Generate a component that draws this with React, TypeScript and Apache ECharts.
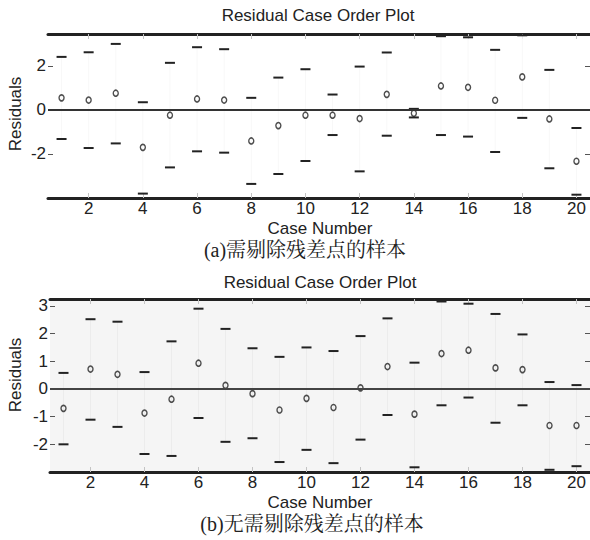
import React, { useEffect, useRef } from "react";
import * as echarts from "echarts";

const caseNumbers = [1, 2, 3, 4, 5, 6, 7, 8, 9, 10, 11, 12, 13, 14, 15, 16, 17, 18, 19, 20];
const xTicks = [2, 4, 6, 8, 10, 12, 14, 16, 18, 20];

const residA = [0.55, 0.45, 0.76, -1.7, -0.24, 0.5, 0.45, -1.41, -0.71, -0.24, -0.24, -0.39, 0.71, -0.15, 1.09, 1.03, 0.44, 1.5, -0.41, -2.33];
const lowerA = [-1.32, -1.73, -1.52, -3.8, -2.61, -1.88, -1.94, -3.36, -2.91, -2.32, -1.14, -2.79, -1.17, -0.34, -1.14, -1.21, -1.91, -0.36, -2.65, -3.85];
const upperA = [2.41, 2.62, 3.0, 0.35, 2.14, 2.85, 2.76, 0.55, 1.47, 1.85, 0.7, 1.97, 2.61, 0.05, 3.35, 3.3, 2.73, 3.39, 1.82, -0.82];
const yTicksA = [-2, 0, 2];

const residB = [-0.7, 0.72, 0.53, -0.87, -0.37, 0.93, 0.13, -0.17, -0.76, -0.34, -0.67, 0.04, 0.81, -0.91, 1.28, 1.4, 0.76, 0.7, -1.32, -1.32];
const lowerB = [-2.0, -1.11, -1.37, -2.35, -2.42, -1.05, -1.91, -1.78, -2.64, -2.2, -2.68, -1.83, -0.94, -2.83, -0.59, -0.31, -1.22, -0.59, -2.92, -2.79];
const upperB = [0.58, 2.52, 2.43, 0.61, 1.72, 2.9, 2.17, 1.47, 1.16, 1.5, 1.37, 1.91, 2.55, 0.95, 3.16, 3.08, 2.71, 1.97, 0.25, 0.14];
const yTicksB = [-2, -1, 0, 1, 2, 3];

const titleText = "Residual Case Order Plot";
const xName = "Case Number";
const yName = "Residuals";
const captionA = "(a)需剔除残差点的样本";
const captionB = "(b)无需剔除残差点的样本";

const SANS = '"Liberation Sans", Arial, Helvetica, sans-serif';
const SERIF = '"Liberation Serif", "Noto Serif CJK SC", "Noto Sans CJK SC", serif';
const INK = "#222";

function xAxes(gridIndex: number) {
  const base = {
    type: "value",
    gridIndex,
    min: 0.5,
    max: 20.5,
    splitLine: { show: false },
    axisLine: { show: true, onZero: false, lineStyle: { color: INK, width: 3 } },
    axisTick: { show: true, inside: true, length: 5, customValues: xTicks, lineStyle: { color: "#c4c4c4", width: 1 } },
  };
  return [
    {
      ...base,
      position: "bottom",
      axisLabel: { show: true, customValues: xTicks, margin: 2, fontSize: 17, color: INK, fontFamily: SANS },
    },
    { ...base, position: "top", axisLabel: { show: false } },
  ];
}

function yAxes(gridIndex: number, min: number, max: number, ticks: number[]) {
  const base = {
    type: "value",
    gridIndex,
    min,
    max,
    splitLine: { show: false },
    axisLine: { show: false },
    axisTick: { show: true, inside: true, length: 5, customValues: ticks, lineStyle: { color: "#555", width: 1 } },
  };
  return [
    {
      ...base,
      position: "left",
      axisLabel: { show: true, customValues: ticks, margin: 2, fontSize: 17, color: INK, fontFamily: SANS },
    },
    { ...base, position: "right", axisLabel: { show: false } },
  ];
}

function intervalSeries(axisIdx: number, lower: number[], upper: number[], faint: string) {
  return {
    type: "custom",
    xAxisIndex: axisIdx,
    yAxisIndex: axisIdx,
    encode: { x: 0, y: [1, 2] },
    data: caseNumbers.map((c, i) => [c, lower[i], upper[i]]),
    renderItem: (params: any, api: any) => {
      const x = api.value(0);
      const pLo = api.coord([x, api.value(1)]);
      const pHi = api.coord([x, api.value(2)]);
      const hw = 5;
      return {
        type: "group",
        children: [
          { type: "line", shape: { x1: pLo[0], y1: pLo[1], x2: pHi[0], y2: pHi[1] }, style: { stroke: faint, lineWidth: 1 } },
          { type: "line", shape: { x1: pLo[0] - hw, y1: pLo[1], x2: pLo[0] + hw, y2: pLo[1] }, style: { stroke: INK, lineWidth: 2 } },
          { type: "line", shape: { x1: pHi[0] - hw, y1: pHi[1], x2: pHi[0] + hw, y2: pHi[1] }, style: { stroke: INK, lineWidth: 2 } },
        ],
      };
    },
    z: 3,
  };
}

function residSeries(axisIdx: number, resid: number[], zeroColor: string) {
  return {
    type: "scatter",
    xAxisIndex: axisIdx,
    yAxisIndex: axisIdx,
    data: caseNumbers.map((c, i) => [c, resid[i]]),
    symbol: "circle",
    symbolSize: [5, 6],
    itemStyle: { color: "rgba(0,0,0,0)", borderColor: INK, borderWidth: 1.5 },
    markLine: {
      silent: true,
      symbol: ["none", "none"],
      label: { show: false },
      lineStyle: { color: zeroColor, width: 2, type: "solid" },
      data: [{ yAxis: 0 }],
    },
    z: 4,
  };
}

function txt(text: string, x: number, y: number, size: number, family: string, rotation = 0) {
  return {
    type: "text",
    x,
    y,
    rotation,
    style: { text, fontSize: size, fontFamily: family, fill: INK, align: "center", verticalAlign: "middle" },
  };
}

export default function App() {
  const ref = useRef<HTMLDivElement>(null);
  useEffect(() => {
    if (!ref.current) return;
    const chart = echarts.init(ref.current, null, { renderer: "svg" });
    const option: any = {
      animation: false,
      backgroundColor: "#ffffff",
      grid: [
        { left: 48, top: 34, width: 544, height: 164, show: false },
        { left: 50, top: 299, width: 544, height: 173, show: true, backgroundColor: "#f5f5f5", borderWidth: 0 },
      ],
      xAxis: [...xAxes(0), ...xAxes(1)],
      yAxis: [...yAxes(0, -4.0, 3.45, yTicksA), ...yAxes(1, -3.0, 3.25, yTicksB)],
      series: [
        intervalSeries(0, lowerA, upperA, "#f8f8f8"),
        residSeries(0, residA, "#333"),
        intervalSeries(2, lowerB, upperB, "#ececec"),
        residSeries(2, residB, "#444"),
      ],
      graphic: [
        txt(titleText, 318, 15, 17, SANS),
        txt(xName, 320, 228, 17, SANS),
        txt(yName, 15, 114, 17, SANS, Math.PI / 2),
        txt(captionA, 305, 250, 20, SERIF),
        txt(titleText, 320, 282, 17, SANS),
        txt(xName, 320, 502, 17, SANS),
        txt(yName, 15, 375, 17, SANS, Math.PI / 2),
        txt(captionB, 312, 524, 20, SERIF),
      ],
    };
    chart.setOption(option);
    return () => chart.dispose();
  }, []);
  return <div ref={ref} style={{ position: "fixed", left: 0, top: 0, width: 590, height: 540 }} />;
}
